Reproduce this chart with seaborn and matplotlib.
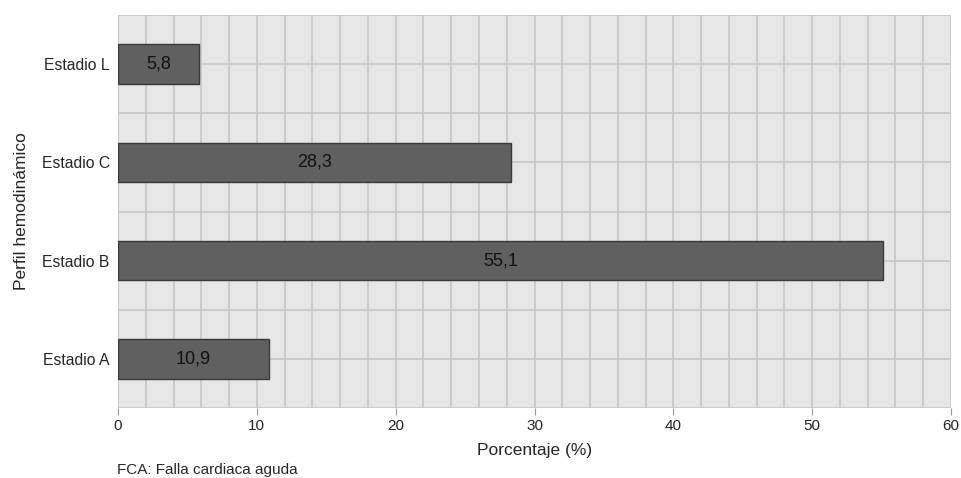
import matplotlib
matplotlib.use("Agg")
import matplotlib.pyplot as plt
from matplotlib.ticker import MultipleLocator
import seaborn as sns
import pandas as pd

# Hemodynamic profile distribution (percent of patients)
estadios = ["Estadio L", "Estadio C", "Estadio B", "Estadio A"]
porcentajes = [5.8, 28.3, 55.1, 10.9]
xticks = [0, 10, 20, 30, 40, 50, 60]

df = pd.DataFrame({"estadio": estadios, "porcentaje": porcentajes})

sns.set_theme(style="white")
plt.rcParams["font.family"] = ["Liberation Sans", "DejaVu Sans"]

fig = plt.figure(figsize=(9.61, 4.78), dpi=100)
ax = fig.add_axes([0.1228, 0.1464, 0.8668, 0.8222])
ax.set_facecolor("#e6e6e6")

sns.barplot(data=df, x="porcentaje", y="estadio", order=estadios,
            color="#606060", saturation=1, width=0.4,
            edgecolor="#3a3a3a", linewidth=1.0, ax=ax, zorder=3)

ax.set_xlim(0, 60)
ax.set_ylim(3.5, -0.5)

# grid: vertical every 2 units, horizontal at every half category
ax.set_xticks(xticks)
ax.xaxis.set_minor_locator(MultipleLocator(2))
ax.set_yticks(range(len(estadios)))
ax.set_yticklabels(estadios)
ax.set_yticks([-0.5, 0.5, 1.5, 2.5, 3.5], minor=True)
ax.grid(True, which="both", color="#c6c6c6", linewidth=1.2, zorder=0)
ax.set_axisbelow(True)

for s in ax.spines.values():
    s.set_visible(False)

ax.tick_params(axis="x", which="major", length=5, width=0.8, color="#999999",
               labelsize=11, pad=3, bottom=True)
ax.tick_params(axis="x", which="minor", length=0)
ax.tick_params(axis="y", which="both", length=0, labelsize=11.3, pad=6)

for c in ax.containers:
    ax.bar_label(c, labels=[f"{v:.1f}".replace(".", ",") for v in c.datavalues],
                 label_type="center", fontsize=13, color="#111111")

ax.set_xlabel("Porcentaje (%)", fontsize=12.5, labelpad=7)
ax.set_ylabel("Perfil hemodinámico", fontsize=12.5, labelpad=9)

fig.text(117 / 961, 1 - 470 / 478, "FCA: Falla cardiaca aguda",
         fontsize=11, ha="left", va="center")

fig.savefig("out.png", dpi=100)
